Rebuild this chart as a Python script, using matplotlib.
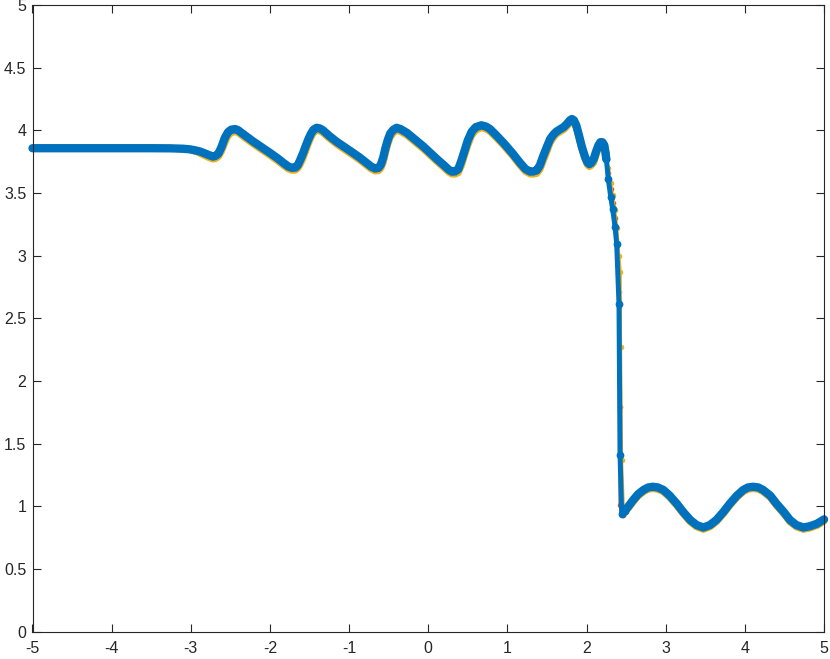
import numpy as np
import matplotlib.pyplot as plt

plt.rcParams['font.family'] = ['Liberation Sans', 'DejaVu Sans']
plt.rcParams['axes.unicode_minus'] = False

# density profiles
# smooth part left of the shock (shared x)
x_left = [-5.0, -4.5, -4.0, -3.5, -3.26, -3.10, -3.01, -2.93, -2.88, -2.80, -2.75, -2.72,
          -2.69, -2.65, -2.61, -2.57, -2.53, -2.49, -2.44, -2.40, -2.36, -2.21, -2.00,
          -1.90, -1.83, -1.77, -1.72, -1.68, -1.65, -1.62, -1.58, -1.545, -1.51, -1.48,
          -1.45, -1.41, -1.37, -1.33, -1.25, -1.16, -0.95, -0.86, -0.78, -0.72, -0.67,
          -0.63, -0.60, -0.57, -0.54, -0.51, -0.48, -0.44, -0.40, -0.35, -0.27, -0.06,
          0.11, 0.20, 0.26, 0.30, 0.34, 0.38, 0.42, 0.46, 0.50, 0.55, 0.60, 0.67, 0.73,
          0.78, 0.86, 0.95, 1.06, 1.16, 1.23, 1.29, 1.33, 1.37, 1.41, 1.45, 1.50, 1.54,
          1.58, 1.62, 1.67, 1.71, 1.75, 1.79, 1.815, 1.84, 1.87, 1.90, 1.94, 1.98, 2.01,
          2.035, 2.06, 2.09, 2.12, 2.15, 2.175, 2.20, 2.225, 2.25, 2.275, 2.305, 2.33, 2.36]
y_left_blue = [3.857, 3.857, 3.857, 3.857, 3.856, 3.853, 3.848, 3.838, 3.83, 3.81,
               3.797, 3.79, 3.795, 3.815, 3.87, 3.94, 3.985, 4.005, 4.01, 4.0,
               3.98, 3.91, 3.82, 3.775, 3.74, 3.712, 3.70, 3.703, 3.72, 3.76,
               3.82, 3.88, 3.935, 3.975, 4.005, 4.02, 4.015, 4.0, 3.955, 3.91,
               3.82, 3.78, 3.74, 3.71, 3.695, 3.70, 3.725, 3.78, 3.86, 3.925,
               3.975, 4.005, 4.02, 4.01, 3.98, 3.87, 3.77, 3.72, 3.685, 3.67,
               3.672, 3.69, 3.76, 3.84, 3.92, 3.99, 4.025, 4.04, 4.03, 4.01,
               3.96, 3.90, 3.82, 3.74, 3.69, 3.67, 3.672, 3.68, 3.72, 3.79,
               3.87, 3.93, 3.965, 3.99, 4.01, 4.025, 4.05, 4.08, 4.09, 4.08,
               4.04, 3.97, 3.87, 3.79, 3.745, 3.73, 3.74, 3.77, 3.83, 3.88,
               3.905, 3.905, 3.88, 3.77, 3.61, 3.47, 3.37, 3.23]
y_left_red = [3.857, 3.857, 3.857, 3.857, 3.856, 3.853, 3.846, 3.834, 3.82, 3.80,
              3.787, 3.78, 3.784, 3.80, 3.85, 3.92, 3.97, 3.993, 4.0, 3.99,
              3.97, 3.90, 3.81, 3.765, 3.73, 3.702, 3.69, 3.692, 3.705, 3.74,
              3.80, 3.86, 3.92, 3.96, 3.993, 4.01, 4.005, 3.99, 3.945, 3.90,
              3.81, 3.77, 3.73, 3.70, 3.685, 3.688, 3.71, 3.76, 3.84, 3.91,
              3.96, 3.993, 4.01, 4.0, 3.97, 3.86, 3.76, 3.71, 3.675, 3.66,
              3.66, 3.675, 3.74, 3.82, 3.90, 3.975, 4.013, 4.03, 4.02, 4.0,
              3.95, 3.89, 3.81, 3.73, 3.68, 3.66, 3.66, 3.667, 3.70, 3.77,
              3.85, 3.915, 3.953, 3.98, 4.0, 4.015, 4.04, 4.07, 4.08, 4.07,
              4.03, 3.96, 3.86, 3.78, 3.735, 3.72, 3.73, 3.755, 3.815, 3.87,
              3.895, 3.895, 3.87, 3.80, 3.66, 3.53, 3.42, 3.30]
y_left_yellow = [3.857, 3.857, 3.857, 3.857, 3.856, 3.853, 3.845, 3.83, 3.815, 3.79,
                 3.777, 3.77, 3.773, 3.79, 3.835, 3.90, 3.955, 3.98, 3.99, 3.98,
                 3.96, 3.89, 3.80, 3.755, 3.72, 3.692, 3.68, 3.682, 3.695, 3.725,
                 3.78, 3.84, 3.90, 3.945, 3.98, 4.0, 3.995, 3.98, 3.935, 3.89,
                 3.80, 3.76, 3.72, 3.69, 3.675, 3.677, 3.695, 3.74, 3.82, 3.89,
                 3.945, 3.98, 4.0, 3.99, 3.96, 3.85, 3.75, 3.70, 3.665, 3.65,
                 3.65, 3.662, 3.72, 3.80, 3.88, 3.96, 4.0, 4.02, 4.01, 3.99,
                 3.94, 3.88, 3.80, 3.72, 3.67, 3.65, 3.65, 3.655, 3.685, 3.75,
                 3.83, 3.90, 3.94, 3.97, 3.99, 4.005, 4.03, 4.06, 4.07, 4.06,
                 4.02, 3.95, 3.85, 3.77, 3.725, 3.71, 3.72, 3.74, 3.80, 3.86,
                 3.885, 3.885, 3.87, 3.82, 3.70, 3.58, 3.48, 3.36]

# shock
x_shock_blue = [2.381, 2.41, 2.423, 2.444]
y_shock_blue = [3.09, 2.61, 1.41, 0.94]
x_shock_red = [2.39, 2.413, 2.418, 2.422, 2.455]
y_shock_red = [3.10, 2.71, 1.79, 1.01, 0.93]
x_shock_yellow = [2.385, 2.41, 2.428, 2.432, 2.445, 2.47]
y_shock_yellow = [3.22, 3.00, 2.87, 2.27, 1.37, 0.94]

# right of the shock (shared x)
x_right = [2.48, 2.53, 2.59, 2.65, 2.72, 2.78, 2.84, 2.90, 2.97, 3.05, 3.14, 3.22,
           3.31, 3.39, 3.475, 3.56, 3.64, 3.73, 3.81, 3.90, 3.98, 4.04, 4.105, 4.17,
           4.23, 4.32, 4.40, 4.49, 4.57, 4.65, 4.74, 4.82, 4.91, 5.0]
y_right_blue = [0.96, 1.00, 1.05, 1.095, 1.13, 1.15, 1.155, 1.15, 1.13, 1.085, 1.02, 0.955,
                0.89, 0.85, 0.83, 0.85, 0.89, 0.955, 1.02, 1.085, 1.13, 1.15, 1.155, 1.15,
                1.13, 1.085, 1.02, 0.955, 0.89, 0.85, 0.83, 0.84, 0.86, 0.895]
y_right_red = [0.95, 0.99, 1.04, 1.085, 1.12, 1.14, 1.145, 1.14, 1.12, 1.075, 1.01, 0.945,
               0.88, 0.84, 0.82, 0.84, 0.88, 0.945, 1.01, 1.075, 1.12, 1.14, 1.145, 1.14,
               1.12, 1.075, 1.01, 0.945, 0.88, 0.84, 0.82, 0.83, 0.85, 0.885]
y_right_yellow = [0.95, 0.985, 1.035, 1.08, 1.115, 1.135, 1.14, 1.135, 1.115, 1.07, 1.005, 0.94,
                  0.875, 0.835, 0.815, 0.835, 0.875, 0.94, 1.005, 1.07, 1.115, 1.135, 1.14, 1.135,
                  1.115, 1.07, 1.005, 0.94, 0.875, 0.835, 0.815, 0.825, 0.845, 0.88]

n_steep = 5  # last points before the shock, where single grid points show


def draw(ax, y_left, x_shock, y_shock, y_right, color, lw_smooth, lw_shock, ms):
    # smooth parts are drawn with a thick line (dense markers in the original),
    # the shock with a thinner one so the single points stand out
    kw = dict(color=color, mew=0, clip_on=False, solid_joinstyle='round',
              solid_capstyle='round')
    k = len(x_left) - n_steep
    ax.plot(x_left[:k + 1], y_left[:k + 1], '-', lw=lw_smooth, **kw)
    ax.plot(x_right, y_right, '-', lw=lw_smooth, **kw)
    ax.plot(x_left[k:] + x_shock + x_right[:1], y_left[k:] + y_shock + y_right[:1],
            '-o', lw=lw_shock, ms=ms, **kw)


fig = plt.figure(figsize=(8.3, 6.59), dpi=100)
ax = fig.add_axes([32.5 / 830, (659 - 631.5) / 659, 791.5 / 830, 626.5 / 659])

draw(ax, y_left_red, x_shock_red, y_shock_red, y_right_red, '#D95319', 5.0, 2.0, 4.0)
draw(ax, y_left_yellow, x_shock_yellow, y_shock_yellow, y_right_yellow, '#EDB120', 5.0, 2.0, 4.0)
draw(ax, y_left_blue, x_shock_blue, y_shock_blue, y_right_blue, '#0072BD', 6.0, 3.6, 5.6)

ax.set_xlim(-5, 5)
ax.set_ylim(0, 5)
ax.set_xticks(np.arange(-5, 6, 1))
ax.set_yticks(np.arange(0, 5.01, 0.5))
ax.set_xticklabels(['-5', '-4', '-3', '-2', '-1', '0', '1', '2', '3', '4', '5'])
ax.set_yticklabels(['0', '0.5', '1', '1.5', '2', '2.5', '3', '3.5', '4', '4.5', '5'])

for s in ax.spines.values():
    s.set_color('#262626')
    s.set_linewidth(0.8)
ax.tick_params(direction='in', length=5.8, width=0.8, color='#262626', labelcolor='#262626',
               labelsize=11.5, top=True, right=True)
ax.tick_params(axis='x', pad=7)
ax.tick_params(axis='y', pad=4.5)

fig.savefig('out.png', dpi=100)
